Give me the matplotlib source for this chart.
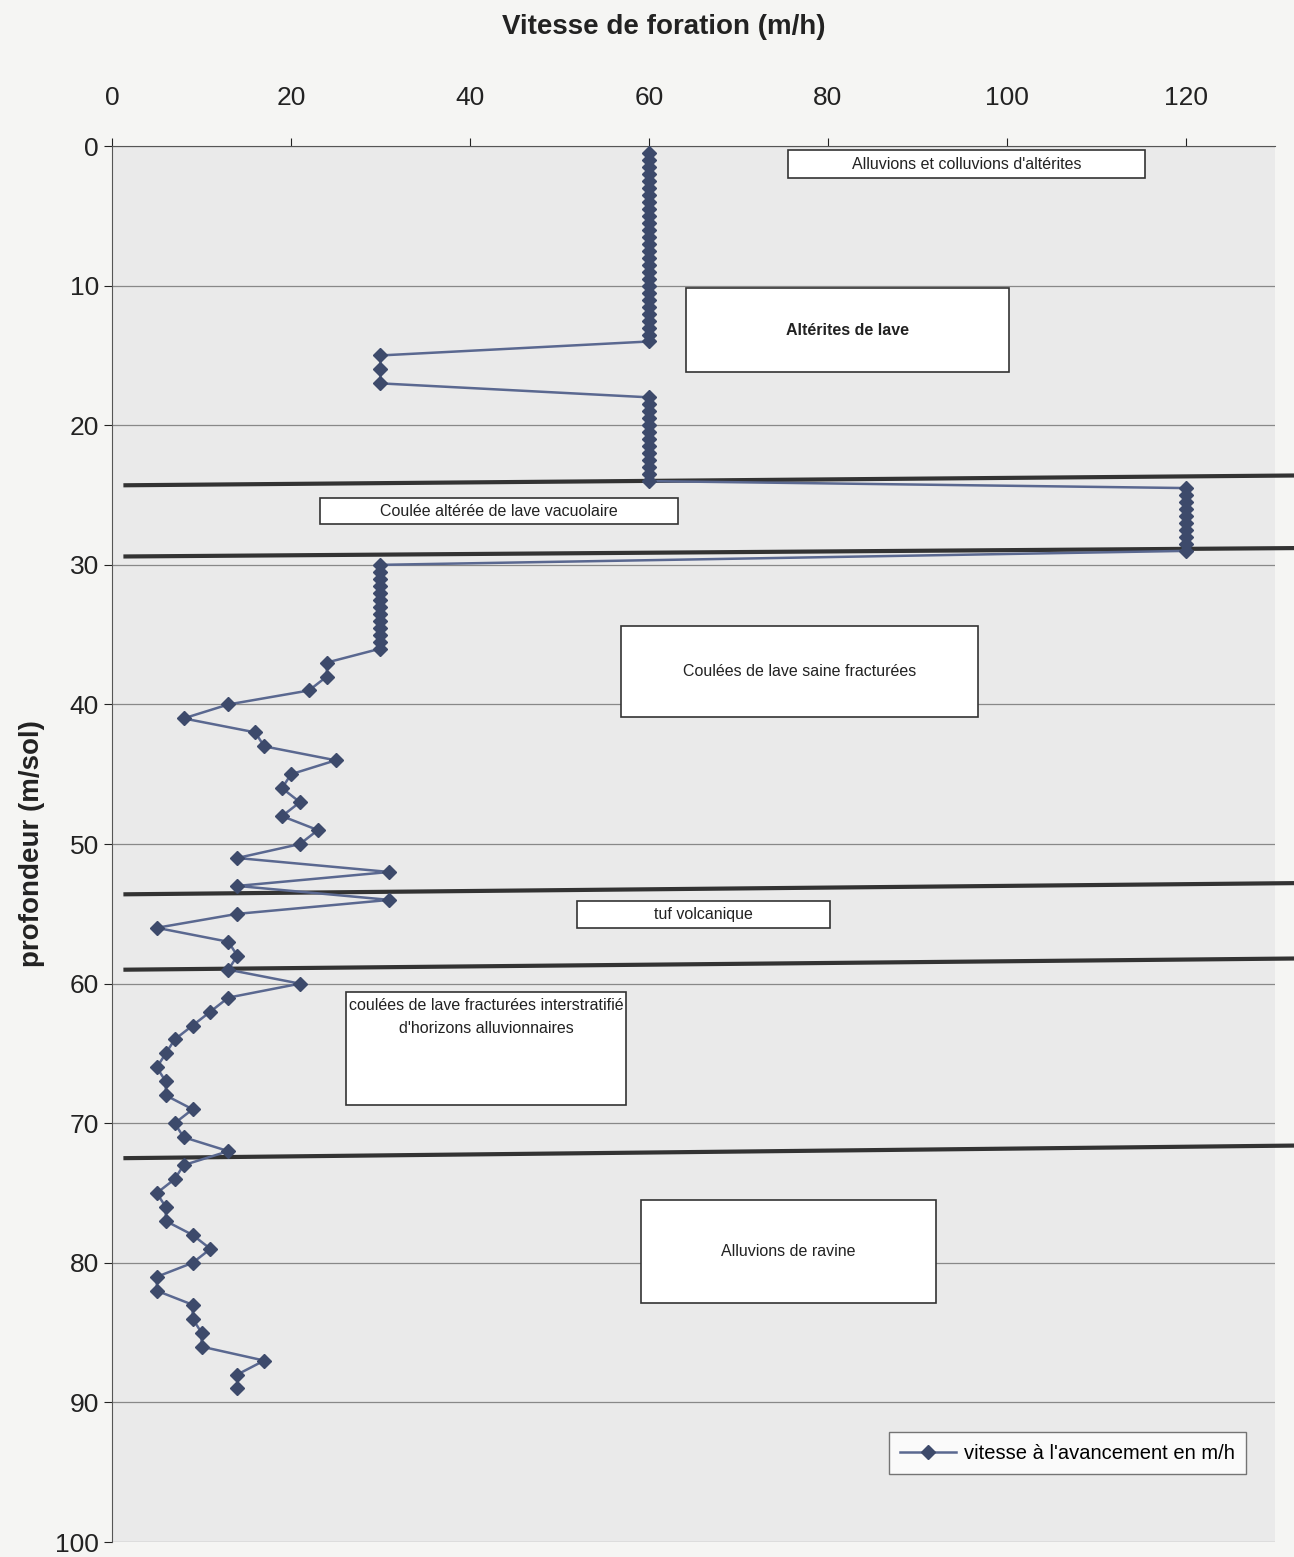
import matplotlib.pyplot as plt
from matplotlib.patches import Rectangle
from matplotlib.lines import Line2D

plt.rcParams['font.family'] = ['Liberation Sans', 'DejaVu Sans']

# profondeur (m) : pas de 0.5 m dans la partie haute, 1 m ensuite
prof_haut_1 = [x / 2 for x in range(1, 29)]          # 0.5 -> 14
prof_haut_2 = [15, 16, 17]
prof_haut_3 = [x / 2 for x in range(36, 49)]         # 18 -> 24
prof_haut_4 = [x / 2 for x in range(49, 59)]         # 24.5 -> 29
prof_haut_5 = [x / 2 for x in range(60, 73)]         # 30 -> 36
prof_bas = list(range(37, 90))
profondeur = prof_haut_1 + prof_haut_2 + prof_haut_3 + prof_haut_4 + prof_haut_5 + prof_bas

# vitesse d'avancement (m/h)
vitesse = ([60] * 28 + [30] * 3 + [60] * 13 + [120] * 10 + [30] * 13 +
           [24, 24, 22, 13, 8, 16, 17, 25, 20, 19, 21, 19, 23, 21, 14, 31, 14, 31, 14, 5,
            13, 14, 13, 21, 13, 11, 9, 7, 6, 5, 6, 6, 9, 7, 8, 13, 8, 7, 5, 6,
            6, 9, 11, 9, 5, 5, 9, 9, 10, 10, 17, 14, 14])

# limites des couches (profondeur à gauche, profondeur à droite)
limites_gauche = [24.3, 29.4, 53.6, 59.0, 72.5]
limites_droite = [23.6, 28.8, 52.8, 58.2, 71.6]

# étiquettes des couches
couches = [
    "Alluvions et colluvions d'altérites",
    "Altérites de lave",
    "Coulée altérée de lave vacuolaire",
    "Coulées de lave saine fracturées",
    "tuf volcanique",
    "coulées de lave fracturées interstratifié\nd'horizons alluvionnaires",
    "Alluvions de ravine",
]
# boîtes: x0, x1, y0, y1 (unités des axes)
boites = [
    (75.5, 115.5, 0.3, 2.3),
    (64.2, 100.3, 10.2, 16.2),
    (23.2, 63.3, 25.2, 27.1),
    (56.9, 96.8, 34.4, 40.9),
    (52.0, 80.3, 54.1, 56.0),
    (26.2, 57.5, 60.6, 68.7),
    (59.1, 92.1, 75.5, 82.9),
]

couleur_ligne = '#5a6890'
couleur_point = '#3d4a6b'

fig = plt.figure(figsize=(12.94, 15.57), dpi=100)
fig.patch.set_facecolor('#f5f5f3')
ax = fig.add_axes([0.0866, 0.0096, 0.8988, 0.8966])
ax.set_facecolor('#eaeaea')

ax.plot(vitesse, profondeur, color=couleur_ligne, lw=1.8, marker='D', markersize=7.5,
        markerfacecolor=couleur_point, markeredgecolor=couleur_point, zorder=4)

ax.set_xlim(0, 130)
ax.set_ylim(100, 0)
ax.xaxis.tick_top()
ax.xaxis.set_label_position('top')
ax.set_xticks(range(0, 121, 20))
ax.set_yticks(range(0, 101, 10))
ax.tick_params(axis='both', labelsize=19, colors='#222222', length=6, width=0.8)
ax.tick_params(axis='x', pad=20)
ax.set_xlabel('Vitesse de foration (m/h)', fontsize=20, fontweight='bold', color='#222222')
ax.xaxis.set_label_coords(0.474, 1.080)
ax.set_ylabel('profondeur (m/sol)', fontsize=20, fontweight='bold', labelpad=7,
              color='#222222')
ax.grid(axis='y', color='#888888', lw=0.9)
ax.set_axisbelow(True)
for s in ['top', 'left']:
    ax.spines[s].set_color('#555555')
for s in ['right', 'bottom']:
    ax.spines[s].set_visible(False)

for yg, yd in zip(limites_gauche, limites_droite):
    ax.plot([1.5, 132], [yg, yd], color='#333333', lw=3, clip_on=False, zorder=3)

for (x0, x1, y0, y1), nom in zip(boites, couches):
    ax.add_patch(Rectangle((x0, y0), x1 - x0, y1 - y0, facecolor='white',
                           edgecolor='#333333', lw=1.2, zorder=5))
    poids = 'bold' if nom == "Altérites de lave" else 'normal'
    if '\n' in nom:
        ax.text((x0 + x1) / 2, y0 + 0.4, nom, ha='center', va='top', fontsize=11.5,
                linespacing=1.7, zorder=6, color='#222222')
    else:
        ax.text((x0 + x1) / 2, (y0 + y1) / 2, nom, ha='center', va='center', fontsize=11.5,
                fontweight=poids, zorder=6, color='#222222')

poignee = Line2D([0], [0], color=couleur_ligne, lw=1.8, marker='D', markersize=7.5,
                 markerfacecolor=couleur_point, markeredgecolor=couleur_point)
leg = ax.legend([poignee], ["vitesse à l'avancement en m/h"], loc='lower right',
                bbox_to_anchor=(0.975, 0.049), borderaxespad=0, fontsize=14.5, frameon=True,
                fancybox=False, handlelength=2.8, handletextpad=0.4, borderpad=0.55)
leg.get_frame().set_edgecolor('#555555')
leg.get_frame().set_facecolor('white')

fig.savefig('out.png', dpi=100, facecolor=fig.get_facecolor())
